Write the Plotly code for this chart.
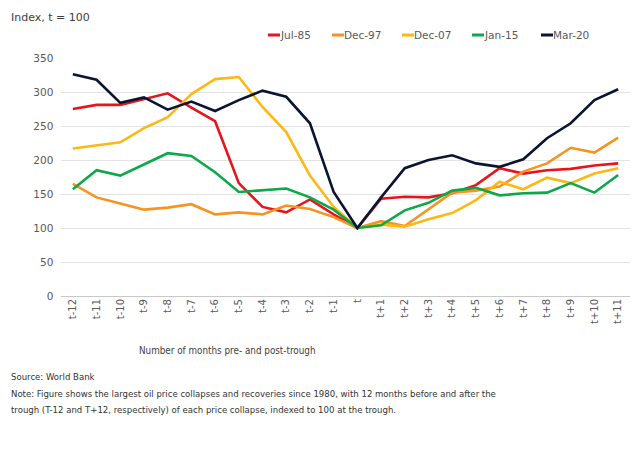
import plotly.graph_objects as go

# months relative to the trough
months = ["t-12", "t-11", "t-10", "t-9", "t-8", "t-7", "t-6", "t-5", "t-4", "t-3", "t-2", "t-1", "t",
          "t+1", "t+2", "t+3", "t+4", "t+5", "t+6", "t+7", "t+8", "t+9", "t+10", "t+11"]

jul85 = [275, 281, 281, 290, 298, 277, 257, 166, 131, 123, 142, 120, 100,
         143, 146, 145, 151, 163, 188, 180, 185, 187, 192, 195]
dec97 = [165, 145, 136, 127, 130, 135, 120, 123, 120, 133, 128, 116, 100,
         110, 103, 127, 152, 155, 161, 183, 195, 218, 211, 233]
dec07 = [217, 221, 226, 247, 263, 297, 319, 322, 278, 241, 177, 131, 100,
         105, 102, 113, 122, 141, 168, 157, 174, 166, 180, 188]
jan15 = [157, 185, 177, 194, 210, 206, 182, 153, 156, 158, 145, 127, 100,
         104, 126, 137, 155, 159, 148, 151, 152, 166, 152, 178]
mar20 = [326, 318, 284, 292, 274, 286, 272, 288, 302, 293, 254, 153, 100,
         145, 188, 200, 207, 195, 190, 201, 232, 254, 288, 304]

series = [
    ("Jul-85", jul85, "#E8141C"),
    ("Dec-97", dec97, "#F7931E"),
    ("Dec-07", dec07, "#FDB813"),
    ("Jan-15", jan15, "#0DA84A"),
    ("Mar-20", mar20, "#0B1433"),
]

note_lines = [
    "Source: World Bank",
    "Note: Figure shows the largest oil price collapses and recoveries since 1980, with 12 months before and after the",
    "trough (T-12 and T+12, respectively) of each price collapse, indexed to 100 at the trough.",
]

fig = go.Figure()
for name, vals, col in series:
    fig.add_trace(go.Scatter(x=months, y=vals, name=name, mode="lines",
                             line=dict(color=col, width=2.6), showlegend=False))

font = "DejaVu Sans, Verdana, sans-serif"
narrow = "DejaVu Sans Condensed, Liberation Sans Narrow, sans-serif"

# page has an 8px body margin, so the plot area is placed in figure pixels
# plot area in window pixels: x 61..630, y 58..296
OFF = 8
L, T, R, B = 61, 58, 630, 296
W, H = R - L, B - T
fig.update_layout(
    width=640, height=452,
    margin=dict(l=L - OFF, r=640 - (R - OFF), t=T - OFF, b=452 - (B - OFF), autoexpand=False),
    paper_bgcolor="white", plot_bgcolor="white",
    font=dict(family=font, size=11, color="#595959"),
    xaxis=dict(range=[-0.5, 23.5], tickangle=-90, showgrid=False,
               showline=False, ticks="", tickfont=dict(size=10)),
    yaxis=dict(range=[0, 350], dtick=50, gridcolor="#E3E3E3", gridwidth=1,
               zeroline=True, zerolinecolor="#C8C8C8", zerolinewidth=1,
               showline=False, ticks="", ticksuffix="  ",
               tickfont=dict(size=10.5)),
)

def px(x):
    return (x - L) / W

def py(y):
    return (B - y) / H

# hand-made legend: short line sample followed by the label
legend_x = [268, 332, 402, 472, 541]
for (name, _, col), lx in zip(series, legend_x):
    fig.add_shape(type="line", xref="paper", yref="paper",
                  x0=px(lx), x1=px(lx + 12), y0=py(35), y1=py(35),
                  line=dict(color=col, width=3))
    fig.add_annotation(text=name, xref="paper", yref="paper",
                       x=px(lx + 12), y=py(35), xanchor="left", yanchor="middle",
                       showarrow=False, xshift=-2,
                       font=dict(size=10.5, color="#595959"))

# left-hand texts start at the first visible pixel of the page
fig.add_annotation(text="Index, t = 100", xref="paper", yref="paper",
                   x=px(OFF + 1), y=py(OFF + 1), xanchor="left", yanchor="top",
                   showarrow=False, font=dict(size=11, color="#404040"))
fig.add_annotation(text="Number of months pre- and post-trough", xref="paper", yref="paper",
                   x=px(227), y=py(350), xanchor="center", yanchor="middle",
                   showarrow=False, font=dict(family=narrow, size=9.8, color="#404040"))
for line, ly in zip(note_lines, [376, 393, 409]):
    fig.add_annotation(text=line, xref="paper", yref="paper",
                       x=px(OFF + 1), y=py(ly), xanchor="left", yanchor="middle",
                       align="left", showarrow=False,
                       font=dict(family=narrow, size=9.5, color="#333333"))

fig.write_html("out.html")
